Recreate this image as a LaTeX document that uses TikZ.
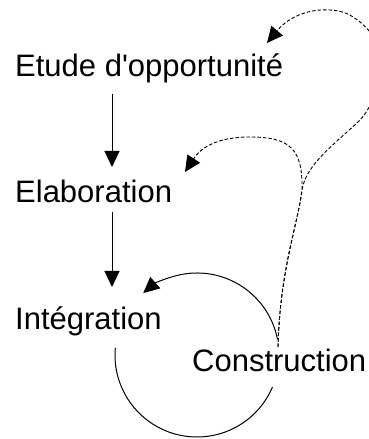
\documentclass[tikz,border=0pt]{standalone}
\usepackage{fontspec}
\setmainfont{Liberation Sans}
\usetikzlibrary{arrows.meta,calc}

\tikzset{
  label/.style={inner sep=0pt, anchor=base west, font=\fontsize{31}{37}\selectfont},
  solidline/.style={line width=1pt},
  arr/.style={solidline, -{Triangle[length=16pt,width=15pt]}},
  dasharr/.style={line width=0.9pt, dash pattern=on 3.5pt off 2pt,
                  -{Triangle[length=16pt,width=15pt]}},
}

\begin{document}
\begin{tikzpicture}[x=1pt,y=1pt]
  \clip (0,0) rectangle (369,439);
  \fill[white] (0,0) rectangle (369,439);

  % phases
  \node[label] (etude)  at (15,362) {Etude d\textquotesingle opportunité};
  \node[label] (elab)   at (15,236) {Elaboration};
  \node[label] (integ)  at (15,109) {Intégration};
  \node[label] (constr) at (192,67) {Construction};

  % straight sequence
  \draw[arr] ([xshift=97pt,yshift=-17pt]etude.base west) -- ([xshift=97pt,yshift=36pt]elab.base west);
  \draw[arr] ([xshift=97pt,yshift=-9pt]elab.base west) -- ([xshift=97pt,yshift=43pt]integ.base west);

  % integration / construction cycle
  \coordinate (cyc) at (197,84);
  \draw[solidline] ([shift={(175:82pt)}]cyc) arc[start angle=175, end angle=337, radius=82pt];
  \draw[arr] ([shift={(11:82pt)}]cyc) arc[start angle=11, end angle=131, radius=82pt];

  % feedback from construction
  \coordinate (cs) at ($(constr.base west)+(86,25)$);
  \coordinate (fork) at (302,249);
  \coordinate (toelab) at ($(elab.base west)+(170,31)$);
  \coordinate (toetude) at ($(etude.base west)+(252,34)$);

  \draw[dasharr] (cs) .. controls (280,170) and (298,215) .. (fork)
    .. controls (303,290) and (290,302) .. (250,302)
    .. controls (215,302) and (200,290) .. (toelab);

  \draw[dasharr] (cs) .. controls (280,170) and (298,215) .. (fork)
    .. controls (306,275) and (335,295) .. (360,319)
    .. controls (372,332) and (378,350) .. (378,372)
    .. controls (378,400) and (372,410) .. (350,424)
    .. controls (330,434) and (295,430) .. (toetude);
\end{tikzpicture}
\end{document}
